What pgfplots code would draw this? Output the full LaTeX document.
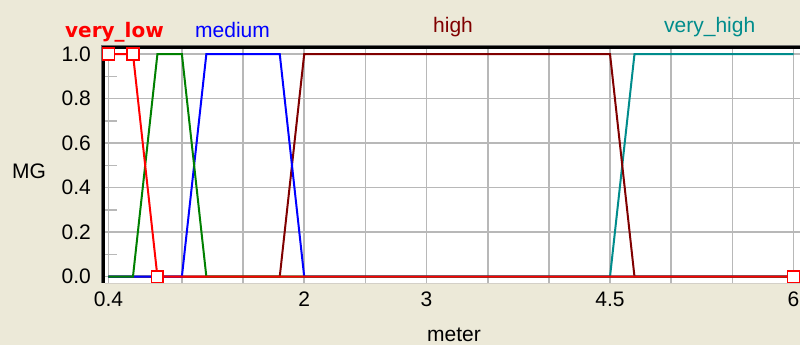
\documentclass[border=0pt]{standalone}
\usepackage{pgfplots}
\pgfplotsset{compat=1.18}
\usepackage{fontspec}
\setmainfont{Liberation Sans}
\newfontfamily\dvs{DejaVu Sans}
\definecolor{bg}{RGB}{236,233,216}
\definecolor{mfgreen}{RGB}{0,128,0}
\definecolor{mfdarkred}{RGB}{128,0,0}
\definecolor{mfteal}{RGB}{0,140,140}
\definecolor{gridc}{RGB}{184,184,184}
\definecolor{edgec}{RGB}{212,208,200}
\definecolor{darkedge}{RGB}{110,110,110}
\begin{document}
\begin{tikzpicture}[font=\fontsize{21}{25}\selectfont]
\useasboundingbox (-105pt,-62pt) rectangle (695pt,283pt);
\fill[bg] (-105pt,-62pt) rectangle (695pt,283pt);
\begin{axis}[
  at={(0pt,0pt)}, anchor=south west,
  scale only axis, width=695pt, height=234pt,
  xmin=0.3714, xmax=6.0531, ymin=-0.0283, ymax=1.0225,
  clip=false,
  axis background/.style={fill=white},
  axis line style={draw=none},
  xtick={0.4,1,1.5,2,2.5,3,3.5,4,4.5,5,5.5,6},
  xticklabels={0.4,,,2,,3,,,4.5,,,6},
  ytick={0,0.2,0.4,0.6,0.8,1.0},
  yticklabels={0.0,0.2,0.4,0.6,0.8,1.0},
  minor ytick={0.1,0.3,0.5,0.7,0.9},
  major tick length=0pt, minor tick length=12pt,
  tick align=inside, xtick pos=bottom, ytick pos=left,
  minor tick style={gridc, line width=1.4pt},
  grid=major, major grid style={gridc, line width=1.6pt},
  /pgf/number format/assume math mode=true,
  tick label style={font=\fontsize{21}{25}\selectfont},
  yticklabel style={inner sep=0pt, xshift=-14pt, anchor=east},
  xticklabel style={inner sep=0pt, yshift=-8.7pt, anchor=north},
  every axis plot/.append style={line width=2pt},
]
\addplot[mfteal, no marks] coordinates {(0.4,0) (4.5,0) (4.7,1) (6,1)};
\addplot[mfdarkred, no marks] coordinates {(0.4,0) (1.8,0) (2.0,1) (4.5,1) (4.7,0) (6,0)};
\addplot[blue, no marks] coordinates {(0.4,0) (1.0,0) (1.2,1) (1.8,1) (2.0,0) (6,0)};
\addplot[mfgreen, no marks] coordinates {(0.4,0) (0.6,0) (0.8,1) (1.0,1) (1.2,0) (6,0)};
\addplot[red, mark=square*, mark size=5.8pt, mark options={fill=white, draw=red, line width=1.5pt, solid}] coordinates {(0.4,1) (0.6,1) (0.8,0) (6,0)};
\fill[edgec] ([yshift=-1pt]rel axis cs:0,0) rectangle (rel axis cs:1,0);
\fill[darkedge] ([xshift=-4pt]rel axis cs:0,0) rectangle ([xshift=-3pt,yshift=4pt]rel axis cs:0,1);
\fill[darkedge] ([xshift=-4pt,yshift=3pt]rel axis cs:0,1) rectangle ([yshift=4pt]rel axis cs:1,1);
\fill[black] ([xshift=-3pt]rel axis cs:0,0) rectangle ([yshift=3pt]rel axis cs:0,1);
\fill[black] ([xshift=-3pt]rel axis cs:0,1) rectangle ([yshift=3pt]rel axis cs:1,1);
\end{axis}
\node[anchor=base west, inner sep=0pt, red, font={\fontsize{20}{24}\dvs\bfseries}] at (-40pt,245.5pt) {very\_low};
\node[anchor=base west, inner sep=0pt, blue] at (90pt,245.7pt) {medium};
\node[anchor=base west, inner sep=0pt, mfdarkred] at (328pt,250.2pt) {high};
\node[anchor=base west, inner sep=0pt, mfteal] at (559pt,250.2pt) {very\_high};
\node[anchor=base west, inner sep=0pt] at (-93pt,104.7pt) {MG};
\node[anchor=base west, inner sep=0pt] at (322pt,-58pt) {meter};
\end{tikzpicture}
\end{document}
